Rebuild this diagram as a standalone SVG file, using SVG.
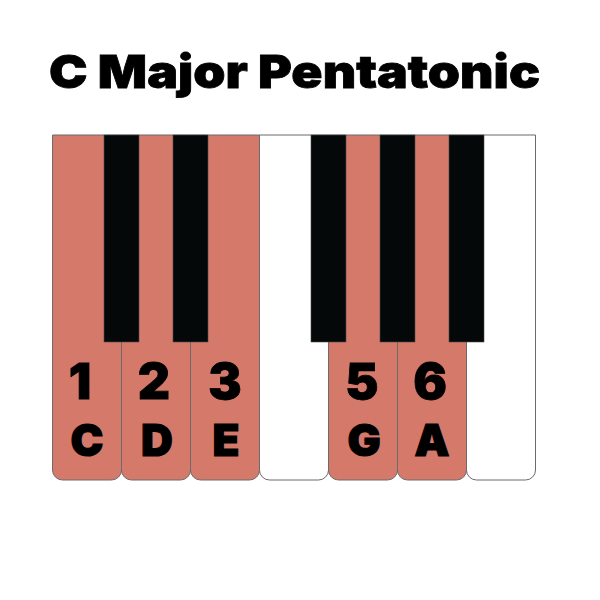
<svg xmlns="http://www.w3.org/2000/svg" width="600" height="600" viewBox="0 0 600 600">
  <defs>
    <style>
      .white { stroke: #6b6b6b; stroke-width: 1; }
      .on { fill: #D5796A; }
      .off { fill: #FFFFFF; }
      .black { fill: #050809; stroke: #4a4a4a; stroke-width: 0.6; }
      .title { font-family: Inter, "Liberation Sans", sans-serif; font-weight: 900; font-size: 46px; fill: #000; stroke: #000; stroke-width: 0.8; }
      .num { font-family: Inter, "Liberation Sans", sans-serif; font-weight: 900; font-size: 50px; fill: #000; text-anchor: middle; stroke: #000; stroke-width: 0.8; }
      .note { font-family: Inter, "Liberation Sans", sans-serif; font-weight: 900; font-size: 44px; fill: #000; text-anchor: middle; stroke: #000; stroke-width: 1.2; }
    </style>
  </defs>
  <rect width="600" height="600" fill="#FFFFFF"/>
  <text class="title" x="49" y="88" textLength="491" lengthAdjust="spacingAndGlyphs">C Major Pentatonic</text>

  <g id="key-C"><path class="white on" d="M52.5,135 H121.5 V470 A10,10 0 0 1 111.5,480 H62.5 A10,10 0 0 1 52.5,470 Z"/></g>
  <g id="key-D"><path class="white on" d="M121.5,135 H190.5 V470 A10,10 0 0 1 180.5,480 H131.5 A10,10 0 0 1 121.5,470 Z"/></g>
  <g id="key-E"><path class="white on" d="M190.5,135 H259.5 V470 A10,10 0 0 1 249.5,480 H200.5 A10,10 0 0 1 190.5,470 Z"/></g>
  <g id="key-F"><path class="white off" d="M259.5,135 H328.5 V470 A10,10 0 0 1 318.5,480 H269.5 A10,10 0 0 1 259.5,470 Z"/></g>
  <g id="key-G"><path class="white on" d="M328.5,135 H397.5 V470 A10,10 0 0 1 387.5,480 H338.5 A10,10 0 0 1 328.5,470 Z"/></g>
  <g id="key-A"><path class="white on" d="M397.5,135 H466.5 V470 A10,10 0 0 1 456.5,480 H407.5 A10,10 0 0 1 397.5,470 Z"/></g>
  <g id="key-B"><path class="white off" d="M466.5,135 H535.5 V470 A10,10 0 0 1 525.5,480 H476.5 A10,10 0 0 1 466.5,470 Z"/></g>

  <g id="black-Cs"><rect class="black" x="104" y="135" width="35" height="207"/></g>
  <g id="black-Ds"><rect class="black" x="173" y="135" width="35" height="207"/></g>
  <g id="black-Fs"><rect class="black" x="311" y="135" width="35" height="207"/></g>
  <g id="black-Gs"><rect class="black" x="380" y="135" width="35" height="207"/></g>
  <g id="black-As"><rect class="black" x="449" y="135" width="35" height="207"/></g>

  <g id="labels">
    <text class="num" x="80" y="399">1</text>
    <text class="num" x="154" y="399">2</text>
    <text class="num" x="225" y="399">3</text>
    <text class="num" x="362" y="399">5</text>
    <text class="num" x="430" y="399">6</text>
    <text class="note" x="87" y="456">C</text>
    <text class="note" x="157" y="456">D</text>
    <text class="note" x="226" y="456">E</text>
    <text class="note" x="364" y="456">G</text>
    <text class="note" x="432" y="456">A</text>
  </g>
</svg>
